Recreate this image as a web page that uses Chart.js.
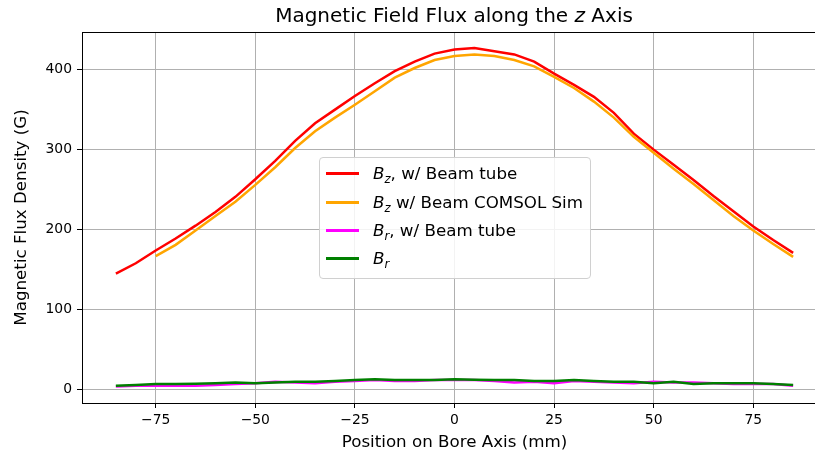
<!DOCTYPE html>
<html>
<head>
<meta charset="utf-8">
<script src="https://cdn.jsdelivr.net/npm/chart.js@4"></script>
<style>
    html, body { margin: 0; padding: 0; background: #fff; overflow: hidden; width: 815px; height: 458px; }
    #wrap { position: relative; width: 815px; height: 458px; font-family: "DejaVu Sans", sans-serif; }
    #chart { position: absolute; left: 0; top: 0; }
    #title { position: absolute; left: 454px; top: 3px; transform: translateX(-50%); font-size: 20px; line-height: 24px; white-space: nowrap; color: #000; }
    #legend { position: absolute; left: 319px; top: 157px; width: 270px; height: 120px; border: 1px solid #d0d0d0; border-radius: 4px; background: rgba(255,255,255,0.85); font-size: 16.7px; color: #000; }
    .row { position: absolute; left: 0; height: 20px; line-height: 20px; white-space: nowrap; }
    .row span.swatch { position: absolute; left: 6px; top: 9px; width: 33px; height: 2.5px; }
    .row span.txt { position: absolute; left: 53px; top: 0; }
    sub { font-size: 70%; vertical-align: -0.3em; line-height: 0; }
</style>
</head>
<body>
<div id="wrap">
    <canvas id="chart" width="830" height="458"></canvas>
    <div id="title">Magnetic Field Flux along the <i>z</i> Axis</div>
    <div id="legend"></div>
</div>
<script>
// positions along bore axis (mm)
const positions = [-85, -80, -75, -70, -65, -60, -55, -50, -45, -40, -35, -30, -25, -20, -15, -10, -5, 0,
    5, 10, 15, 20, 25, 30, 35, 40, 45, 50, 55, 60, 65, 70, 75, 80, 85];
const simPositions = [-75, -70, -65, -60, -55, -50, -45, -40, -35, -30, -25, -20, -15, -10, -5, 0,
    5, 10, 15, 20, 25, 30, 35, 40, 45, 50, 55, 60, 65, 70, 75, 80, 85];

// Bz measured with beam tube
const bzTube = [145, 158, 174, 189, 205, 222, 241, 263, 286, 311, 333, 350, 367, 383, 398, 410, 420, 425,
    427, 423, 419, 410, 395, 381, 366, 346, 320, 300, 281, 262, 242, 223, 204, 187, 171];
// Bz COMSOL sim
const bzSim = [167, 181, 199, 217, 235, 256, 278, 302, 323, 340, 356, 373, 390, 402, 412, 417,
    419, 417, 412, 404, 391, 377, 360, 340, 316, 296, 276, 257, 237, 217, 199, 182, 166];
// Br with beam tube
const brTube = [4, 5, 5, 5, 5, 6, 7, 8, 10, 9, 8, 10, 11, 12, 11, 11, 12, 12,
    12, 11, 9, 10, 8, 11, 10, 9, 8, 10, 9, 9, 8, 7, 7, 7, 5];
// Br
const br = [5, 6, 7, 7, 7.5, 8, 9, 8, 9, 10, 10, 11, 12, 13, 12, 12, 12, 13,
    12.5, 12, 12, 11, 11, 12, 11, 10, 10, 8, 10, 7, 8, 8, 8, 7, 6];

const xTicks = [-75, -50, -25, 0, 25, 50, 75];
const yTicks = [0, 100, 200, 300, 400];

const seriesLabels = [
    '<i>B</i><sub><i>z</i></sub>, w/ Beam tube',
    '<i>B</i><sub><i>z</i></sub> w/ Beam COMSOL Sim',
    '<i>B</i><sub><i>r</i></sub>, w/ Beam tube',
    '<i>B</i><sub><i>r</i></sub>'
];
const seriesColors = ['#ff0000', '#ffa500', '#ff00ff', '#008000'];

function toPoints(xs, ys) {
    return xs.map((x, i) => ({ x: x, y: ys[i] }));
}

// frame round the plot area (matplotlib spines)
const framePlugin = {
    id: 'frame',
    afterDraw(chart) {
        const ctx = chart.ctx;
        const a = chart.chartArea;
        ctx.save();
        ctx.strokeStyle = '#000';
        ctx.lineWidth = 1;
        ctx.strokeRect(Math.round(a.left) + 0.5, Math.round(a.top) + 0.5, Math.round(a.right - a.left), Math.round(a.bottom - a.top));
        ctx.restore();
    }
};

const chartItem = document.getElementById('chart');
const chart = new Chart(chartItem, {
    type: 'line',
    data: {
        datasets: [{
            label: 'Bz, w/ Beam tube',
            data: toPoints(positions, bzTube),
            borderColor: seriesColors[0],
            order: 4
        }, {
            label: 'Bz w/ Beam COMSOL Sim',
            data: toPoints(simPositions, bzSim),
            borderColor: seriesColors[1],
            order: 3
        }, {
            label: 'Br, w/ Beam tube',
            data: toPoints(positions, brTube),
            borderColor: seriesColors[2],
            order: 2
        }, {
            label: 'Br',
            data: toPoints(positions, br),
            borderColor: seriesColors[3],
            order: 1
        }]
    },
    options: {
        responsive: false,
        animation: false,
        layout: {
            padding: { left: 0, right: 3, top: 32, bottom: 0 }
        },
        plugins: {
            legend: { display: false },
            tooltip: { enabled: false }
        },
        elements: {
            line: { borderWidth: 2.5, tension: 0, fill: false },
            point: { radius: 0, hitRadius: 0, hoverRadius: 0 }
        },
        scales: {
            x: {
                type: 'linear',
                min: -93.5,
                max: 93.5,
                afterBuildTicks: (scale) => { scale.ticks = xTicks.map(v => ({ value: v })); },
                afterFit: (scale) => { scale.height = 55; },
                ticks: {
                    color: '#000',
                    padding: 4,
                    maxRotation: 0,
                    font: { family: 'DejaVu Sans', size: 13.9 },
                    callback: (v) => String(v).replace('-', '\u2212')
                },
                grid: { color: '#b0b0b0', lineWidth: 1, tickLength: 5, tickColor: '#000' },
                border: { color: '#000', width: 1 },
                title: {
                    display: true,
                    text: 'Position on Bore Axis (mm)',
                    color: '#000',
                    font: { family: 'DejaVu Sans', size: 16.7 },
                    padding: { top: 0, bottom: 5 }
                }
            },
            y: {
                type: 'linear',
                min: -16.6,
                max: 447,
                afterBuildTicks: (scale) => { scale.ticks = yTicks.map(v => ({ value: v })); },
                afterFit: (scale) => { scale.width = 82; },
                ticks: {
                    color: '#000',
                    padding: 5,
                    font: { family: 'DejaVu Sans', size: 13.9 }
                },
                grid: { color: '#b0b0b0', lineWidth: 1, tickLength: 5, tickColor: '#000' },
                border: { color: '#000', width: 1 },
                title: {
                    display: true,
                    text: 'Magnetic Flux Density (G)',
                    color: '#000',
                    font: { family: 'DejaVu Sans', size: 16.7 },
                    padding: { top: 12, bottom: 0 }
                }
            }
        }
    },
    plugins: [framePlugin]
});

// html legend (so the subscripts can be shown)
const legendBox = document.getElementById('legend');
const rowTops = [5, 34, 62, 90];
seriesLabels.forEach((lbl, i) => {
    const row = document.createElement('div');
    row.className = 'row';
    row.style.top = rowTops[i] + 'px';
    row.innerHTML = '<span class="swatch" style="background:' + seriesColors[i] + '"></span><span class="txt">' + lbl + '</span>';
    legendBox.appendChild(row);
});
</script>
</body>
</html>
